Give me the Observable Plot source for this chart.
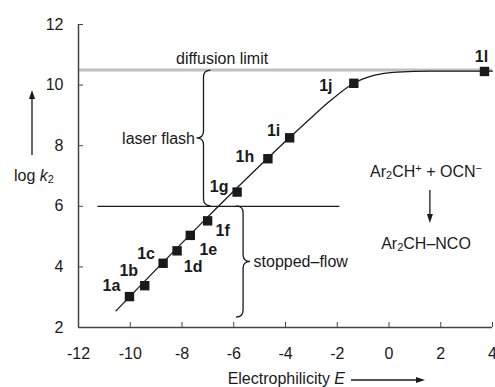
<!DOCTYPE html>
<html><head><meta charset="utf-8">
<script src="https://cdn.jsdelivr.net/npm/d3@7"></script>
<script src="https://cdn.jsdelivr.net/npm/@observablehq/plot@0.6"></script>
<style>
body{margin:0;background:#fff}
#chart{position:relative;width:495px;height:387px}
</style>
</head><body><div id="chart"></div>
<script>
// ---- data ----
const compounds = ["1a","1b","1c","1d","1e","1f","1g","1h","1i","1j","1l"];
const electrophilicity = [-10.03,-9.44,-8.73,-8.19,-7.68,-7.01,-5.87,-4.68,-3.84,-1.36,3.69];
const logK2 = [3.02,3.38,4.12,4.53,5.04,5.52,6.47,7.57,8.26,10.06,10.45];

// fitted curve
const curveE   = [-10.55,-3.84,-2.91,-2.26,-1.36,-0.59,0.32,1.6,4.0];
const curveLog = [2.55, 8.27, 9.0, 9.49, 10.06, 10.32, 10.43, 10.46, 10.46];

const diffusionLimit = 10.5;
const stoppedFlowLimit = 6;
const stoppedFlowRange = [-11.25, -1.9];

const braceLabels = ["laser flash", "stopped–flow"];
const braceE      = [-7.15, -5.62];
const braceTop    = [10.48, 6.0];
const braceBottom = [6.0, 2.33];
const braceDir    = [-1, 1];

const xTicks = [-12,-10,-8,-6,-4,-2,0,2,4];
const yTicks = [2,4,6,8,10,12];

// label placement (pixels) for point labels
const labelOffset = {"1a":[-18,-11],"1b":[-16,-15],"1c":[-17,-9],"1d":[16,16],"1e":[18,14],
  "1f":[15,10],"1g":[-18,-5],"1h":[-23,-2],"1i":[-16,-7],"1j":[-28,3],"1l":[-3,-15]};

const points = compounds.map((c,i)=>({c, E: electrophilicity[i], k: logK2[i]}));
const curve = curveE.map((e,i)=>({E:e, k: curveLog[i]}));

const FONT = "'Liberation Sans', Arial, Helvetica, sans-serif";
const INK = "#1a1a1a";
const FS = 16;

const labelMarks = points.map(p => Plot.text([p], {
  x:"E", y:"k", text:"c", dx: labelOffset[p.c][0], dy: labelOffset[p.c][1],
  fontWeight:"bold", fontSize:FS, fill: INK
}));

const chart = Plot.plot({
  width:495, height:387,
  marginLeft:78, marginRight:3, marginTop:24, marginBottom:60,
  style:{fontFamily:FONT, fontSize:FS+"px", background:"#fff", color: INK},
  x:{domain:[-12,4]},
  y:{domain:[2,12]},
  marks:[
    Plot.ruleY([diffusionLimit], {stroke:"#c0c0c0", strokeWidth:3}),
    Plot.ruleY([stoppedFlowLimit], {x1: stoppedFlowRange[0], x2: stoppedFlowRange[1], stroke:INK, strokeWidth:1.3}),
    Plot.line(curve, {x:"E", y:"k", curve:"monotone-x", stroke:INK, strokeWidth:1.3}),
    Plot.ruleX([-12], {stroke:"#444", strokeWidth:1.5}),
    Plot.ruleY([2], {stroke:"#444", strokeWidth:1.5}),
    Plot.axisX({ticks:xTicks, tickSize:-5, tickPadding:25, tickFormat:d=>String(d), label:null, stroke:"#444", fill:INK, fontSize:FS}),
    Plot.axisY({ticks:yTicks, tickSize:-5, tickPadding:20, tickFormat:d=>String(d), label:null, stroke:"#444", fill:INK, fontSize:FS}),
    Plot.dot(points, {x:"E", y:"k", symbol:"square", r:5.3, fill:INK, stroke:null}),
    ...labelMarks,
    Plot.text(["diffusion limit"], {x:-6.45, y:diffusionLimit, text:d=>d, dy:-11, fontSize:FS, fill:INK}),
    Plot.text([0], {x:braceE[0], y:(braceTop[0]+braceBottom[0])/2, text:()=>braceLabels[0], textAnchor:"end", dx:-9, fontSize:FS, fill:INK}),
    Plot.text([1], {x:braceE[1], y:(braceTop[1]+braceBottom[1])/2, text:()=>braceLabels[1], textAnchor:"start", dx:10, fontSize:FS, fill:INK})
  ]
});
document.getElementById("chart").appendChild(chart);

const sx = chart.scale("x"), sy = chart.scale("y");
const X = v => sx.apply(v), Y = v => sy.apply(v);
const svg = d3.select(chart);

// braces
function bracePath(x0, ya, yb, dir, w){
  const ym = (ya+yb)/2, ex = x0 - dir*w, tx = x0 + dir*w, r = w;
  return `M${ex},${ya}Q${x0},${ya} ${x0},${ya+r}L${x0},${ym-r}Q${x0},${ym} ${tx},${ym}`+
         `Q${x0},${ym} ${x0},${ym+r}L${x0},${yb-r}Q${x0},${yb} ${ex},${yb}`;
}
braceE.forEach((e,i)=>{
  svg.append("path").attr("d", bracePath(X(e), Y(braceTop[i]), Y(braceBottom[i]), braceDir[i], 7))
    .attr("fill","none").attr("stroke",INK).attr("stroke-width",1.3);
});

function arrow(x1,y1,x2,y2){
  const g = svg.append("g");
  const ang = Math.atan2(y2-y1,x2-x1), L=9, W=3;
  const bx = x2 - L*Math.cos(ang), by = y2 - L*Math.sin(ang);
  g.append("line").attr("x1",x1).attr("y1",y1).attr("x2",bx).attr("y2",by).attr("stroke",INK).attr("stroke-width",1.3);
  const px = -Math.sin(ang)*W, py = Math.cos(ang)*W;
  g.append("path").attr("d",`M${x2},${y2}L${bx+px},${by+py}L${bx-px},${by-py}Z`).attr("fill",INK);
}

// reaction scheme
const reaction = {E:1.45, top:7.08, bottom:4.7, arrowE:1.6, arrowFrom:6.52, arrowTo:5.43};
function chemText(x, y, parts){
  const t = svg.append("text").attr("x",x).attr("y",y).attr("text-anchor","middle")
    .attr("dominant-baseline","middle").attr("font-family",FONT).attr("font-size",FS).attr("fill",INK);
  parts.forEach(([s,kind])=>{
    const sp = t.append("tspan").text(s);
    if(kind==="sub") sp.attr("font-size",11).attr("baseline-shift","-25%");
    if(kind==="sup") sp.attr("font-size",11).attr("baseline-shift","40%");
  });
}
chemText(X(reaction.E), Y(reaction.top), [["Ar"],["2","sub"],["CH"],["+","sup"],[" + OCN"],["−","sup"]]);
chemText(X(reaction.E), Y(reaction.bottom), [["Ar"],["2","sub"],["CH–NCO"]]);
arrow(X(reaction.arrowE), Y(reaction.arrowFrom), X(reaction.arrowE), Y(reaction.arrowTo));

// axis titles
const yl = svg.append("text").attr("x",34).attr("y",177).attr("text-anchor","middle")
  .attr("dominant-baseline","middle").attr("font-family",FONT).attr("font-size",FS).attr("fill",INK);
yl.append("tspan").text("log ");
yl.append("tspan").text("k").attr("font-style","italic");
yl.append("tspan").text("2").attr("font-size",11).attr("baseline-shift","-25%");
arrow(32,155,32,90);

const xl = svg.append("text").attr("x",345).attr("y",380).attr("text-anchor","end")
  .attr("dominant-baseline","middle").attr("font-family",FONT).attr("font-size",FS).attr("fill",INK);
xl.append("tspan").text("Electrophilicity ");
xl.append("tspan").text("E").attr("font-style","italic");
arrow(351,380,425,380);
</script>
</body></html>
